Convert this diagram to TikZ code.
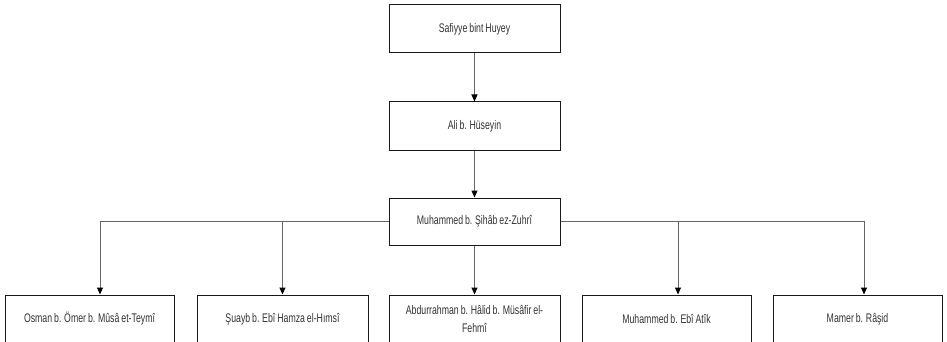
\documentclass[tikz,border=0pt]{standalone}
\usepackage{fontspec}
\setmainfont{Liberation Sans}[FakeStretch=0.7,WordSpace=0.8]
\usetikzlibrary{arrows.meta,positioning}
\begin{document}
\begin{tikzpicture}[x=1pt,y=-1pt,
  box/.style={draw=black!90,line width=1pt,fill=white,minimum width=170pt,minimum height=48pt,
    inner sep=0pt,align=center,font=\fontsize{12.5}{18}\selectfont,text=black!80},
  conn/.style={draw=black!60,line width=1pt,-{Triangle[length=7pt,width=6pt,fill=black,color=black]}}]
\useasboundingbox (0,0) rectangle (947,342);
\fill[white] (0,0) rectangle (947,342);
\node[box,minimum width=171pt] (saf) at (474.5,29) {Safiyye bint Huyey};
\node[box,minimum width=171pt] (ali) at (474.5,126) {Ali b. Hüseyin};
\node[box,minimum width=171pt,minimum height=47pt] (muh) at (474.5,221.5) {Muhammed b. Şihâb ez-Zuhrî};
\node[box,minimum width=169pt] (osman) at (89.5,319) {Osman b. Ömer b. Mûsâ et-Teymî};
\node[box,minimum width=171pt] (suayb) at (282.5,319) {Şuayb b. Ebî Hamza el-Hımsî};
\node[box,minimum width=171pt] (abd) at (474.5,319) {Abdurrahman b. Hâlid b. Müsâfir el-\\Fehmî};
\node[box,minimum width=169pt] (atik) at (666.5,319) {Muhammed b. Ebî Atîk};
\node[box,minimum width=169pt] (mamer) at (857.5,319) {Mamer b. Râşid};
\draw[conn] (saf) -- (ali);
\draw[conn] (ali) -- (muh);
\draw[conn] (muh) -- (abd);
\draw[conn] (muh.west) -| ([xshift=10.5pt]osman.north);
\draw[conn] (muh.west) -| (suayb.north);
\draw[conn] (muh.east) -| ([xshift=11.5pt]atik.north);
\draw[conn] (muh.east) -| ([xshift=6.5pt]mamer.north);
\end{tikzpicture}
\end{document}
